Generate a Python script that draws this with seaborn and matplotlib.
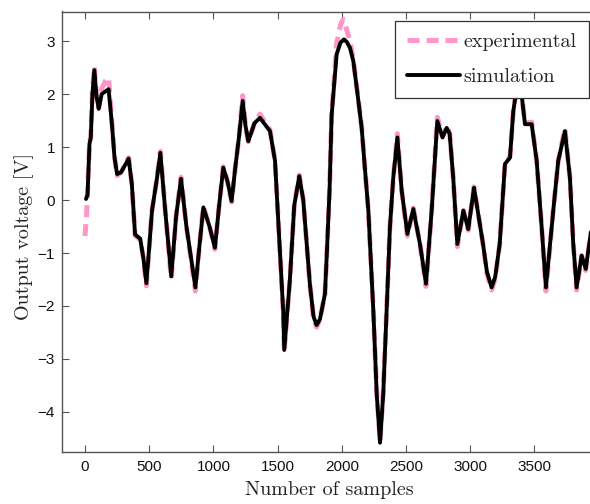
import matplotlib
matplotlib.use("Agg")
import matplotlib.pyplot as plt
import pandas as pd
import seaborn as sns

# Simulated output (sample index, volts)
sim_x = [8, 20, 35, 45, 58, 73, 90, 107, 130, 160, 184, 210, 230, 250, 280, 340, 365, 390,
         430, 455, 478, 500, 522, 560, 587, 625, 672, 710, 748, 790, 860, 890, 922, 970,
         1012, 1045, 1077, 1110, 1142, 1170, 1200, 1228, 1250, 1272, 1320, 1363, 1441, 1480,
         1519, 1544, 1552, 1596, 1630, 1669, 1700, 1727, 1752, 1780, 1804, 1830, 1869, 1882,
         1905, 1921, 1960, 1990, 2017, 2040, 2064, 2090, 2120, 2155, 2180, 2207, 2246, 2272,
         2298, 2323, 2349, 2375, 2401, 2433, 2467, 2511, 2557, 2609, 2656, 2700, 2744, 2785,
         2817, 2840, 2868, 2900, 2947, 2985, 3030, 3100, 3130, 3167, 3195, 3230, 3271, 3310,
         3336, 3375, 3400, 3427, 3479, 3518, 3557, 3590, 3647, 3686, 3738, 3777, 3803, 3829,
         3868, 3900, 3935, 3960]
sim_y = [0.02, 0.1, 1.06, 1.17, 2.0, 2.45, 1.95, 1.72, 2.0, 2.05, 2.09, 1.43, 0.8, 0.49, 0.52,
         0.78, 0.3, -0.65, -0.73, -1.1, -1.57, -0.9, -0.2, 0.4, 0.89, -0.2, -1.44, -0.3, 0.40,
         -0.5, -1.65, -0.9, -0.14, -0.5, -0.9, -0.1, 0.61, 0.35, -0.02, 0.6, 1.2, 1.87, 1.4,
         1.11, 1.45, 1.55, 1.30, 0.74, -1.0, -2.1, -2.83, -1.5, -0.1, 0.45, 0.0, -0.83, -1.6,
         -2.2, -2.36, -2.25, -1.77, -1.1, 0.2, 1.6, 2.75, 2.97, 3.03, 2.98, 2.87, 2.62, 2.05,
         1.36, 0.6, -0.2, -2.1, -3.66, -4.58, -3.66, -2.1, -0.52, 0.42, 1.18, 0.17, -0.64,
         -0.17, -0.83, -1.58, -0.2, 1.49, 1.18, 1.36, 1.25, 0.42, -0.83, -0.2, -0.55, 0.23,
         -0.83, -1.35, -1.65, -1.45, -0.83, 0.68, 0.8, 1.68, 2.3, 2.0, 1.43, 1.43, 0.74, -0.52,
         -1.65, -0.2, 0.74, 1.30, 0.42, -0.83, -1.65, -1.05, -1.3, -0.7, -0.3]

# Measured output (sample index, volts)
exp_x = [0, 12, 22, 35, 45, 58, 73, 90, 107, 130, 160, 184, 210, 230, 250, 280, 340, 365, 390,
         430, 455, 478, 500, 522, 560, 587, 625, 672, 710, 748, 790, 860, 890, 922, 970,
         1012, 1045, 1077, 1110, 1142, 1170, 1200, 1228, 1250, 1272, 1320, 1363, 1441, 1480,
         1519, 1544, 1552, 1596, 1630, 1669, 1700, 1727, 1752, 1780, 1804, 1830, 1869, 1882,
         1905, 1921, 1960, 1990, 2010, 2040, 2064, 2090, 2120, 2155, 2180, 2207, 2246, 2272,
         2298, 2323, 2349, 2375, 2401, 2433, 2467, 2511, 2557, 2609, 2656, 2700, 2744, 2785,
         2817, 2840, 2868, 2900, 2947, 2985, 3030, 3100, 3130, 3167, 3195, 3230, 3271, 3310,
         3336, 3375, 3400, 3427, 3479, 3518, 3557, 3590, 3647, 3686, 3738, 3777, 3803, 3829,
         3868, 3900, 3935, 3960]
exp_y = [-0.68, -0.3, 0.25, 1.06, 1.2, 2.05, 2.52, 1.95, 1.74, 2.1, 2.25, 2.31, 1.45, 0.82,
         0.46, 0.52, 0.8, 0.3, -0.67, -0.75, -1.1, -1.62, -0.9, -0.2, 0.4, 0.92, -0.2, -1.49,
         -0.3, 0.43, -0.5, -1.72, -0.9, -0.12, -0.5, -0.93, -0.1, 0.63, 0.35, -0.04, 0.6, 1.2,
         1.97, 1.4, 1.1, 1.45, 1.62, 1.32, 0.74, -1.0, -2.1, -2.86, -1.5, -0.1, 0.47, 0.0,
         -0.83, -1.6, -2.25, -2.4, -2.25, -1.77, -1.1, 0.2, 1.6, 2.95, 3.3, 3.41, 3.2, 3.0,
         2.65, 2.07, 1.38, 0.6, -0.2, -2.1, -3.6, -4.55, -3.6, -2.1, -0.5, 0.42, 1.25, 0.17,
         -0.68, -0.15, -0.83, -1.63, -0.2, 1.56, 1.2, 1.4, 1.27, 0.42, -0.88, -0.2, -0.57,
         0.25, -0.83, -1.38, -1.7, -1.48, -0.83, 0.68, 0.82, 1.68, 2.35, 2.0, 1.45, 1.47, 0.74,
         -0.52, -1.72, -0.2, 0.74, 1.35, 0.42, -0.83, -1.7, -1.05, -1.33, -0.7, -0.3]

x_ticks = [0, 500, 1000, 1500, 2000, 2500, 3000, 3500]
y_ticks = [-4, -3, -2, -1, 0, 1, 2, 3]

PINK = "#ff96c8"
SPINE = "#555555"
SERIF = "cmr10"

sns.set_style("ticks")
plt.rcParams["font.family"] = ["Liberation Sans", "DejaVu Sans"]
plt.rcParams["axes.unicode_minus"] = True

exp_df = pd.DataFrame({"sample": exp_x, "voltage": exp_y})
sim_df = pd.DataFrame({"sample": sim_x, "voltage": sim_y})

fig = plt.figure(figsize=(5.9, 5.04), dpi=100)
ax = fig.add_axes([62 / 590, 52 / 504, 534 / 590, 440.5 / 504])

sns.lineplot(data=exp_df, x="sample", y="voltage", ax=ax, color=PINK, lw=3.6,
             estimator=None, sort=False, label="experimental")
ax.lines[-1].set_dashes([2.4, 1.4])
sns.lineplot(data=sim_df, x="sample", y="voltage", ax=ax, color="black", lw=2.8,
             estimator=None, sort=False, label="simulation")
for ln in ax.lines:
    ln.set_solid_joinstyle("round")

ax.set_xlim(-179, 3980)
ax.set_ylim(-4.755, 3.557)
ax.set_xticks(x_ticks)
ax.set_yticks(y_ticks)

ax.tick_params(axis="both", direction="in", length=5, width=0.8, color=SPINE,
               labelsize=11, labelcolor="#111111")
ax.tick_params(axis="x", top=True, pad=6)
ax.tick_params(axis="y", pad=5)
for side in ["left", "bottom", "top"]:
    ax.spines[side].set_color(SPINE)
    ax.spines[side].set_linewidth(1.0)
ax.spines["right"].set_visible(False)

ax.set_xlabel("Number of samples", fontfamily=SERIF, fontsize=14.5, color="#222222")
ax.set_ylabel("Output voltage [V]", fontfamily=SERIF, fontsize=14.5, color="#222222")
ax.xaxis.set_label_coords(0.5, -0.066)
ax.yaxis.set_label_coords(-0.052, 0.49)

leg = ax.legend(loc="upper right", bbox_to_anchor=(589 / 590, 1 - 21 / 504),
                bbox_transform=fig.transFigure, borderaxespad=0,
                prop={"family": SERIF, "size": 14.5}, handlelength=2.6,
                handletextpad=0.2, labelspacing=0.85, borderpad=0.6,
                fancybox=False, framealpha=1, edgecolor="#333333")
leg.get_frame().set_linewidth(0.9)

fig.savefig("out.png", dpi=100)
